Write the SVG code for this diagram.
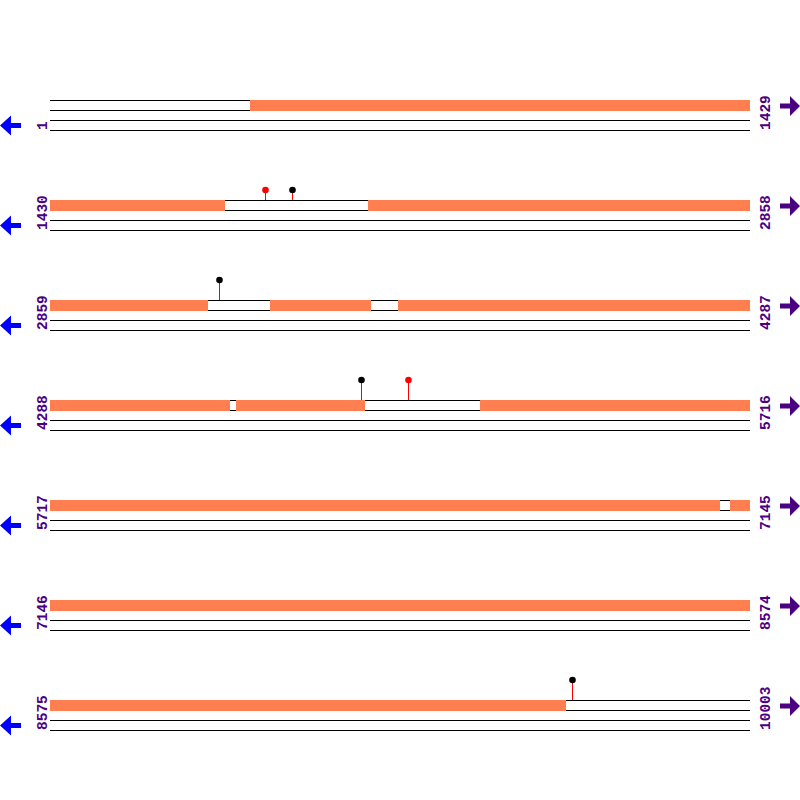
<svg xmlns="http://www.w3.org/2000/svg" width="800" height="800" viewBox="0 0 800 800">
<defs>
<style>
.ln{stroke:#000;stroke-width:1;fill:none}
.cov{fill:#FF7F50}
.lbl{font-family:"Liberation Mono","DejaVu Sans Mono",monospace;font-weight:bold;font-size:14.5px;fill:#4B0082}
.stem{stroke:#FF0000;stroke-width:1}
.la{fill:#0000FF}
.ra{fill:#4B0082}
</style>
<polygon id="larrow" class="la" points="0,0 11,-10 11,-2.5 21,-2.5 21,2.5 11,2.5 11,10"/>
<polygon id="rarrow" class="ra" points="0,0 -10,-10 -10,-2.5 -20,-2.5 -20,2.5 -10,2.5 -10,10"/>
<g id="track">
<line class="ln" x1="50" y1="0.5" x2="750" y2="0.5"/>
<line class="ln" x1="50" y1="10.5" x2="750" y2="10.5"/>
<line class="ln" x1="50" y1="20.5" x2="750" y2="20.5"/>
<line class="ln" x1="50" y1="30.5" x2="750" y2="30.5"/>
</g>
</defs>
<rect width="800" height="800" fill="#fff"/>

<g id="row1">
<use href="#track" y="100"/>
<rect class="cov" x="250" y="100" width="500" height="11"/>
<text class="lbl" transform="translate(46.5,130) rotate(-90)">1</text>
<text class="lbl" transform="translate(770,130) rotate(-90)">1429</text>
<use href="#larrow" x="0" y="125.5"/>
<use href="#rarrow" x="800" y="106"/>
</g>

<g id="row2">
<use href="#track" y="200"/>
<rect class="cov" x="50" y="200" width="175" height="11"/>
<rect class="cov" x="368" y="200" width="382" height="11"/>
<text class="lbl" transform="translate(46.5,230) rotate(-90)">1430</text>
<text class="lbl" transform="translate(770,230) rotate(-90)">2858</text>
<use href="#larrow" x="0" y="225.5"/>
<use href="#rarrow" x="800" y="206"/>
<g id="pin2a"><line class="stem" x1="265.5" y1="190" x2="265.5" y2="200"/><circle cx="265.5" cy="190" r="3.3" fill="#FF0000"/></g>
<g id="pin2b"><line class="stem" x1="292.5" y1="190" x2="292.5" y2="200"/><circle cx="292.5" cy="190" r="3.3" fill="#000"/></g>
</g>

<g id="row3">
<use href="#track" y="300"/>
<rect class="cov" x="50" y="300" width="158" height="11"/>
<rect class="cov" x="270" y="300" width="101" height="11"/>
<rect class="cov" x="398" y="300" width="352" height="11"/>
<text class="lbl" transform="translate(46.5,330) rotate(-90)">2859</text>
<text class="lbl" transform="translate(770,330) rotate(-90)">4287</text>
<use href="#larrow" x="0" y="325.5"/>
<use href="#rarrow" x="800" y="306"/>
<g id="pin3a"><line class="stem" x1="219.5" y1="280" x2="219.5" y2="300"/><circle cx="219.5" cy="280" r="3.3" fill="#000"/></g>
</g>

<g id="row4">
<use href="#track" y="400"/>
<rect class="cov" x="50" y="400" width="180" height="11"/>
<rect class="cov" x="236" y="400" width="129" height="11"/>
<rect class="cov" x="480" y="400" width="270" height="11"/>
<text class="lbl" transform="translate(46.5,430) rotate(-90)">4288</text>
<text class="lbl" transform="translate(770,430) rotate(-90)">5716</text>
<use href="#larrow" x="0" y="425.5"/>
<use href="#rarrow" x="800" y="406"/>
<g id="pin4a"><line class="stem" x1="361.5" y1="380" x2="361.5" y2="400"/><circle cx="361.5" cy="380" r="3.3" fill="#000"/></g>
<g id="pin4b"><line class="stem" x1="408.5" y1="380" x2="408.5" y2="400"/><circle cx="408.5" cy="380" r="3.3" fill="#FF0000"/></g>
</g>

<g id="row5">
<use href="#track" y="500"/>
<rect class="cov" x="50" y="500" width="670" height="11"/>
<rect class="cov" x="730" y="500" width="20" height="11"/>
<text class="lbl" transform="translate(46.5,530) rotate(-90)">5717</text>
<text class="lbl" transform="translate(770,530) rotate(-90)">7145</text>
<use href="#larrow" x="0" y="525.5"/>
<use href="#rarrow" x="800" y="506"/>
</g>

<g id="row6">
<use href="#track" y="600"/>
<rect class="cov" x="50" y="600" width="700" height="11"/>
<text class="lbl" transform="translate(46.5,630) rotate(-90)">7146</text>
<text class="lbl" transform="translate(770,630) rotate(-90)">8574</text>
<use href="#larrow" x="0" y="625.5"/>
<use href="#rarrow" x="800" y="606"/>
</g>

<g id="row7">
<use href="#track" y="700"/>
<rect class="cov" x="50" y="700" width="516" height="11"/>
<text class="lbl" transform="translate(46.5,730) rotate(-90)">8575</text>
<text class="lbl" transform="translate(770,730) rotate(-90)">10003</text>
<use href="#larrow" x="0" y="725.5"/>
<use href="#rarrow" x="800" y="706"/>
<g id="pin7a"><line class="stem" x1="572.5" y1="680" x2="572.5" y2="700"/><circle cx="572.5" cy="680" r="3.3" fill="#000"/></g>
</g>
</svg>
